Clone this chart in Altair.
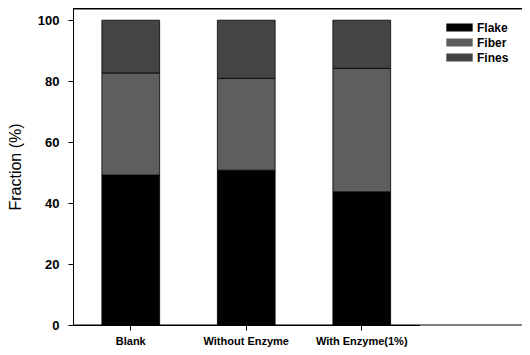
import altair as alt
import pandas as pd

categories = ["Blank", "Without Enzyme", "With Enzyme(1%)"]
components = ["Flake", "Fiber", "Fines"]
flake = [49.2, 50.8, 43.7]
fiber = [33.5, 30.1, 40.5]
fines = [17.3, 19.1, 15.8]
colors = ["#000000", "#5e5e5e", "#444444"]

rows = []
for i, c in enumerate(categories):
    for k, (comp, vals) in enumerate(zip(components, [flake, fiber, fines])):
        rows.append({"Sample": c, "Component": comp, "Value": vals[i], "order": k})
df = pd.DataFrame(rows)
frame_df = pd.DataFrame({"edge": ["frame"]})

font = "Liberation Sans"
W, H = 449, 317

bars = alt.Chart(df).mark_bar(stroke="#000000", strokeWidth=0.8).encode(
    x=alt.X("Sample:N", sort=categories,
            scale=alt.Scale(range=[0, 346.5], paddingInner=0.5, paddingOuter=0.25),
            axis=alt.Axis(title=None, labelAngle=0, labelFont=font, labelFontSize=11,
                          labelFontWeight="bold", labelColor="#000", tickColor="#000",
                          domainColor="#000", tickSize=5, labelPadding=5, grid=False)),
    y=alt.Y("Value:Q", stack="zero",
            scale=alt.Scale(domain=[0, 104], nice=False),
            axis=alt.Axis(title="Fraction (%)", values=[0, 20, 40, 60, 80, 100],
                          labelFont=font, labelFontSize=13, labelFontWeight="bold",
                          labelColor="#000", tickColor="#000", domainColor="#000",
                          tickSize=5, labelPadding=9, grid=False,
                          titleFont=font, titleFontSize=16, titleFontWeight="normal",
                          titleColor="#000", titlePadding=14)),
    color=alt.Color("Component:N", sort=components,
                    scale=alt.Scale(domain=components, range=colors),
                    legend=alt.Legend(title=None, orient="none", legendX=378, legendY=11,
                                      padding=0, rowPadding=0,
                                      symbolType="M-1.55,-0.47H1.55V0.47H-1.55Z",
                                      symbolSize=289, symbolStrokeWidth=0,
                                      labelOffset=9, labelFont=font, labelFontSize=12,
                                      labelFontWeight="bold", labelColor="#000")),
    order=alt.Order("order:Q", sort="ascending"),
)

top_line = alt.Chart(frame_df).mark_rect(color="#000000").encode(
    x=alt.value(0), x2=alt.value(W), y=alt.value(0), y2=alt.value(1.5))
bottom_line = alt.Chart(frame_df).mark_rule(color="#000000", strokeWidth=1).encode(
    x=alt.value(0), x2=alt.value(W), y=alt.value(H))

chart = alt.layer(bars, top_line, bottom_line).properties(
    width=W, height=H,
    autosize=alt.AutoSizeParams(type="none"),
    padding={"left": 65, "top": 0, "right": 0, "bottom": 22},
).configure_view(strokeWidth=0, stroke="transparent")

chart.save("out.html", embed_options={"renderer": "svg", "actions": False})
